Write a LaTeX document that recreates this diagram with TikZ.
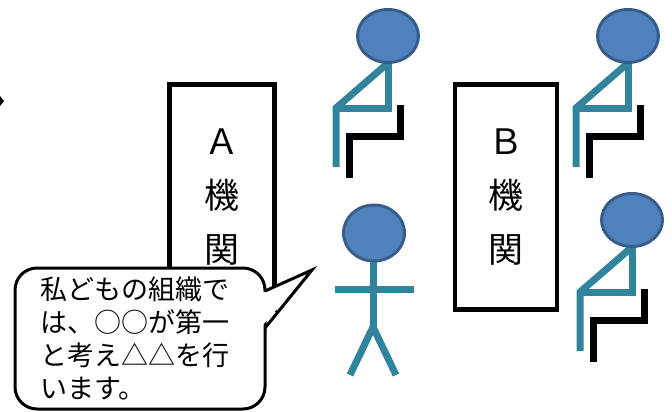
\documentclass[tikz,border=0pt]{standalone}
\usepackage{fontspec}
\newfontfamily\jp{Noto Sans CJK JP}
\usepackage{tikz}
\usetikzlibrary{shapes.geometric}
\definecolor{headblue}{HTML}{4F81BD}
\definecolor{headline}{HTML}{385D8A}
\definecolor{bodyteal}{HTML}{31849B}
\tikzstyle{organ} = [rectangle, draw=black, line width=4.5pt, minimum width=105pt, minimum height=225pt, align=center, font=\jp\fontsize{35}{54}\selectfont]
\tikzstyle{head} = [ellipse, draw=headline, fill=headblue, line width=3pt, minimum width=61pt, minimum height=53pt, inner sep=0pt]
\tikzstyle{limb} = [draw=bodyteal, line width=7pt]
\tikzstyle{chair} = [draw=black, line width=7pt]
\tikzstyle{bubble} = [rectangle, rounded corners=22pt, draw=black, fill=white, line width=3pt, minimum width=250pt, minimum height=141pt, text width=200pt, inner xsep=25pt, align=left, font=\jp\fontsize{27}{33}\selectfont]

% person on a chair, origin at the neck
\tikzset{
  seated/.pic={
    \draw[limb] (0,0) -- (-52,45) -- (-52,104);
    \draw[limb] (-52,45) -- (0,45) -- (0,0);
    \draw[chair] (-39,115) -- (-39,73) -- (12,73) -- (12,42);
    \node (-head) [head] at (0,-27) {};
  },
  standing/.pic={
    \draw[limb] (0,0) -- (0,65);
    \draw[limb] (-38,27) -- (41,27);
    \draw[limb] (-23,113) -- (0,65) -- (23,113);
    \node (-head) [head, minimum height=56pt] at (1,-29) {};
  }
}

\begin{document}
\begin{tikzpicture}[x=1pt, y=-1pt]
\useasboundingbox (0,0) rectangle (672,412);

% the two organisations
\node (orgA) [organ] at (222,197) {Ａ\\機\\関};
\node (orgB) [organ, minimum width=102pt] at (506,197) {Ｂ\\機\\関};

% people
\pic (sitA) at (388,63) {seated};
\pic (sitB) at (628,63) {seated};
\pic (sitC) at (632,247) {seated};
\pic (talker) at (373,262) {standing};

% stray arrow tip at the left edge
\fill (0,96) -- (4,101) -- (0,106) -- cycle;

% speech bubble
\node (bubble) [bubble] at (140,338.5) {私どもの組織で\\は、○○が第一\\と考え△△を行\\います。};
\coordinate (tip) at (312,270);
\fill[white] (262,293) -- (tip) -- (262,326) -- cycle;
\draw[line width=3pt, line join=miter] (265,291) -- (tip) -- (265,328);

\end{tikzpicture}
\end{document}
